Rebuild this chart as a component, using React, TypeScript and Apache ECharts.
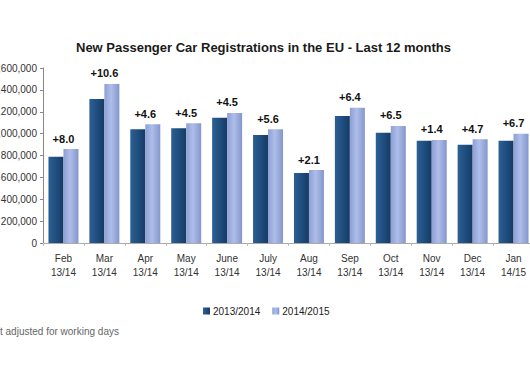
import React, { useEffect, useRef } from "react";
import * as echarts from "echarts";

const months = ["Feb", "Mar", "Apr", "May", "June", "July", "Aug", "Sep", "Oct", "Nov", "Dec", "Jan"];
const periods = ["13/14", "13/14", "13/14", "13/14", "13/14", "13/14", "13/14", "13/14", "13/14", "13/14", "13/14", "14/15"];
const series2013 = [789000, 1317000, 1040000, 1049000, 1146000, 987000, 640000, 1161000, 1009000, 936000, 899000, 936000];
const series2014 = [859000, 1454000, 1085000, 1094000, 1189000, 1040000, 667000, 1237000, 1070000, 942000, 948000, 999000];
const changes = ["+8.0", "+10.6", "+4.6", "+4.5", "+4.5", "+5.6", "+2.1", "+6.4", "+6.5", "+1.4", "+4.7", "+6.7"];
const seriesNames = ["2013/2014", "2014/2015"];
const titleText = "New Passenger Car Registrations in the EU - Last 12 months";
const footnote = "t adjusted for working days";

const FONT = "'Liberation Sans', Arial, sans-serif";

export default function App() {
  const ref = useRef<HTMLDivElement>(null);
  useEffect(() => {
    document.body.style.margin = "0";
    const chart = echarts.init(ref.current!, null, { renderer: "svg" });
    const categories = months.map((m, i) => m + "\n" + periods[i]);
    chart.setOption({
      animation: false,
      backgroundColor: "#ffffff",
      textStyle: { fontFamily: FONT },
      title: {
        text: titleText,
        left: 71,
        top: 36,
        textStyle: { fontSize: 13, fontWeight: "bold", color: "#1a1a1a", fontFamily: FONT },
      },
      legend: {
        data: seriesNames,
        left: 198,
        top: 301,
        itemWidth: 7,
        itemHeight: 7,
        itemGap: 12,
        icon: "rect",
        textStyle: { fontSize: 10, color: "#222", fontFamily: FONT, padding: [0, 0, 0, -2] },
      },
      graphic: [
        {
          type: "text",
          left: 0,
          top: 326,
          style: { text: footnote, fontSize: 10, fill: "#666", fontFamily: FONT },
        },
      ],
      grid: { left: 43, top: 68, width: 491, bottom: 124, containLabel: false, outerBoundsMode: "none" },
      xAxis: {
        type: "category",
        data: categories,
        axisLine: { lineStyle: { color: "#aaa" } },
        axisTick: { show: true, length: 3, lineStyle: { color: "#bbb" } },
        axisLabel: { fontSize: 10, color: "#333", lineHeight: 14, margin: 8, fontFamily: FONT, interval: 0 },
      },
      yAxis: {
        type: "value",
        min: 0,
        max: 1600000,
        interval: 200000,
        axisLine: { show: true, lineStyle: { color: "#888" } },
        axisTick: { show: true, length: 3, lineStyle: { color: "#888" } },
        splitLine: { show: false },
        axisLabel: {
          fontSize: 10,
          color: "#333",
          margin: 6,
          fontFamily: FONT,
          formatter: (v: number) => v.toLocaleString("en-US"),
        },
      },
      series: [
        {
          name: seriesNames[0],
          type: "bar",
          data: series2013,
          barWidth: 15,
          barGap: "0%",
          itemStyle: {
            color: new echarts.graphic.LinearGradient(0, 0, 1, 0, [
              { offset: 0, color: "#2d5f94" },
              { offset: 0.5, color: "#1f4e7f" },
              { offset: 1, color: "#163b64" },
            ]),
          },
        },
        {
          name: seriesNames[1],
          type: "bar",
          data: series2014,
          barWidth: 15,
          barGap: "0%",
          itemStyle: {
            color: new echarts.graphic.LinearGradient(0, 0, 1, 0, [
              { offset: 0, color: "#8d9fd4" },
              { offset: 0.45, color: "#aebeea" },
              { offset: 1, color: "#8496cb" },
            ]),
          },
          label: {
            show: true,
            position: "top",
            distance: 5,
            offset: [-7.5, 0],
            fontSize: 11,
            fontWeight: "bold",
            color: "#111",
            fontFamily: FONT,
            formatter: (p: any) => changes[p.dataIndex],
          },
        },
      ],
    });
    return () => chart.dispose();
  }, []);
  return <div ref={ref} style={{ position: "absolute", left: 0, top: 0, width: 530, height: 367 }} />;
}
